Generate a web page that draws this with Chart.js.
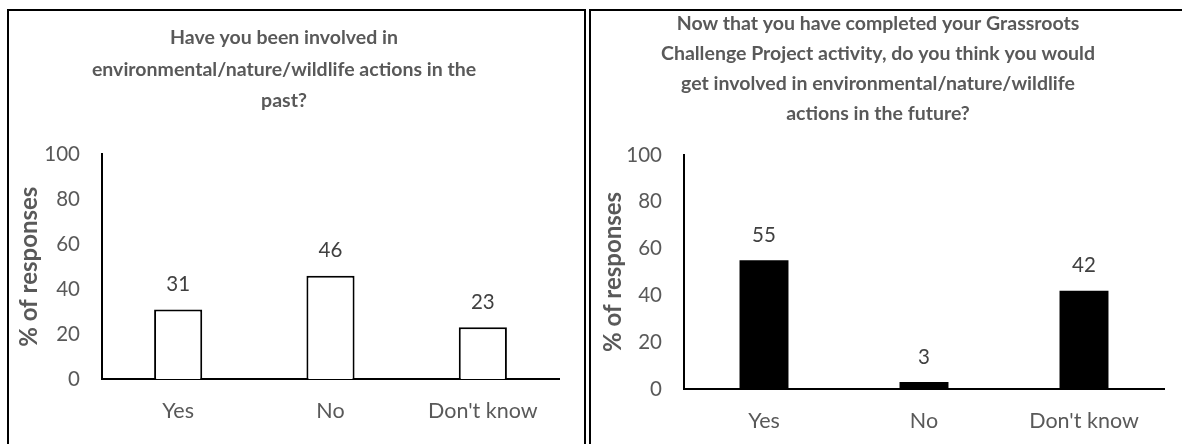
<!DOCTYPE html>
<html>
<head>
<meta charset="utf-8">
<script src="https://cdn.jsdelivr.net/npm/chart.js@4"></script>
<style>
  body { margin: 0; background: #fff; width: 1182px; height: 444px; overflow: hidden; position: relative; }
  .box { position: absolute; }
  .frame { position: absolute; border: 2px solid #000; border-bottom: none; pointer-events: none; }
</style>
</head>
<body>
<div class="box" style="left:9px; top:0; width:575px; height:444px;"><canvas id="chartPast"></canvas></div>
<div class="box" style="left:592px; top:0; width:590px; height:444px;"><canvas id="chartFuture"></canvas></div>
<div class="frame" style="left:7px; top:9px; width:575px; height:450px;"></div>
<div class="frame" style="left:589px; top:9px; width:600px; height:450px; border-right:none;"></div>
<script>
// categorias e valores (%)
const categorias = ['Yes', 'No', "Don't know"];
const valoresPassado = [31, 46, 23];
const valoresFuturo = [55, 3, 42];
const ticksY = [0, 20, 40, 60, 80, 100];

const tituloPassado = ['Have you been involved in', 'environmental/nature/wildlife actions in the', 'past?'];
const tituloFuturo = ['Now that you have completed your Grassroots', 'Challenge Project activity, do you think you would', 'get involved in environmental/nature/wildlife', 'actions in the future?'];

const FONTE = 'Lato';
const CINZA = '#595959';

// plugin simples para escrever o valor acima de cada barra
const rotulosValores = {
    id: 'rotulosValores',
    afterDatasetsDraw(chart) {
        const ctx = chart.ctx;
        const meta = chart.getDatasetMeta(0);
        ctx.save();
        ctx.font = '20.5px ' + FONTE;
        ctx.fillStyle = '#404040';
        ctx.textAlign = 'center';
        ctx.textBaseline = 'middle';
        meta.data.forEach((bar, i) => {
            ctx.fillText(chart.data.datasets[0].data[i], bar.x, bar.y - 25);
        });
        ctx.restore();
    }
};

function criarGrafico(id, valores, titulo, cfg) {
    const ctx = document.getElementById(id).getContext('2d');
    return new Chart(ctx, {
        type: 'bar',
        data: {
            labels: categorias,
            datasets: [{
                data: valores,
                backgroundColor: cfg.fundo,
                borderColor: '#000',
                borderWidth: cfg.borda,
                barPercentage: cfg.barra,
                categoryPercentage: 1
            }]
        },
        options: {
            responsive: true,
            maintainAspectRatio: false,
            animation: false,
            layout: { padding: { left: 0, right: cfg.dir, top: 0, bottom: 0 } },
            plugins: {
                legend: { display: false },
                tooltip: { enabled: false },
                title: {
                    display: true,
                    text: titulo,
                    color: CINZA,
                    font: { family: FONTE, size: 19.5, weight: 'bold', lineHeight: cfg.linha },
                    padding: { top: cfg.tituloTopo, bottom: cfg.tituloBase }
                }
            },
            scales: {
                x: {
                    grid: { display: false, drawTicks: false },
                    border: { display: true, color: '#000', width: 2 },
                    ticks: { color: CINZA, font: { family: FONTE, size: 21.5 }, padding: 19 },
                    afterFit: s => { s.height = cfg.altX; }
                },
                y: {
                    min: 0,
                    max: 100,
                    afterBuildTicks: s => { s.ticks = ticksY.map(v => ({ value: v })); },
                    grid: { display: false, drawTicks: false },
                    border: { display: true, color: '#000', width: 2 },
                    ticks: { color: CINZA, font: { family: FONTE, size: 20.5 }, padding: 22 },
                    title: {
                        display: true,
                        text: '% of responses',
                        color: CINZA,
                        font: { family: FONTE, size: 24, weight: 'bold' },
                        padding: { top: cfg.tituloY, bottom: 0 }
                    },
                    afterFit: s => { s.width = cfg.largY; }
                }
            }
        },
        plugins: [rotulosValores]
    });
}

criarGrafico('chartPast', valoresPassado, tituloPassado, {
    fundo: '#ffffff', borda: 2, barra: 0.316, dir: 25, linha: 1.615,
    tituloTopo: 22, tituloBase: 38, altX: 65, largY: 93, tituloY: 6
});
criarGrafico('chartFuture', valoresFuturo, tituloFuturo, {
    fundo: '#000000', borda: 0, barra: 0.306, dir: 18, linha: 1.538,
    tituloTopo: 9, tituloBase: 26, altX: 55, largY: 92, tituloY: 7
});
</script>
</body>
</html>
